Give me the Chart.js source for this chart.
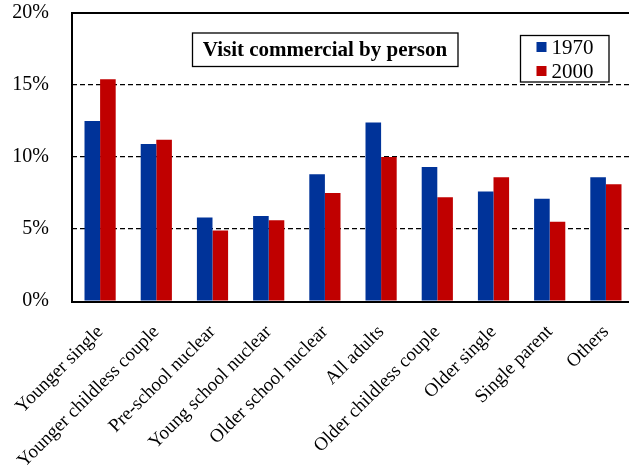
<!DOCTYPE html>
<html>
<head>
<meta charset="utf-8">
<script src="https://cdn.jsdelivr.net/npm/chart.js@4"></script>
<style>
    html, body { margin: 0; padding: 0; background: #fff; overflow: hidden; }
    body { width: 629px; height: 468px; }
    #wrap { width: 634px; height: 468px; }
</style>
</head>
<body>
<div id="wrap"><canvas id="chart" width="634" height="468"></canvas></div>
<script>
const categories = [
    'Younger single', 'Younger childless couple', 'Pre-school nuclear',
    'Young school nuclear', 'Older school nuclear', 'All adults',
    'Older childless couple', 'Older single', 'Single parent', 'Others'
];
const values1970 = [12.5, 10.9, 5.8, 5.9, 8.8, 12.4, 9.3, 7.6, 7.1, 8.6];
const values2000 = [15.4, 11.2, 4.9, 5.6, 7.5, 10.0, 7.2, 8.6, 5.5, 8.1];
const chartTitle = 'Visit commercial by person';

const serif = '"Liberation Serif", "Times New Roman", serif';

// frame around the plot, the boxed title and the boxed legend
const decorations = {
    id: 'decorations',
    afterDatasetsDraw(chart) {
        const { ctx, chartArea: a } = chart;
        ctx.save();
        ctx.strokeStyle = '#000';
        ctx.lineWidth = 2;
        ctx.strokeRect(a.left, a.top, a.right - a.left, a.bottom - a.top + 1);

        // title box
        ctx.lineWidth = 1.3;
        ctx.strokeRect(a.left + 120.5, a.top + 20, 265.5, 33.5);
        ctx.fillStyle = '#000';
        ctx.font = 'bold 21px ' + serif;
        ctx.textAlign = 'center';
        ctx.textBaseline = 'middle';
        ctx.fillText(chartTitle, a.left + 253, a.top + 37.5);

        // legend box
        const lx = a.left + 448.5, ly = a.top + 22.5;
        ctx.strokeRect(lx, ly, 88.5, 46.5);
        ctx.font = '21px ' + serif;
        ctx.textAlign = 'left';
        chart.data.datasets.forEach((ds, i) => {
            const cy = ly + 11.5 + i * 24;
            ctx.fillStyle = ds.backgroundColor;
            ctx.fillRect(lx + 16, cy - 5, 10, 10);
            ctx.fillStyle = '#000';
            ctx.fillText(ds.label, lx + 31, cy + 1);
        });
        ctx.restore();
    }
};

new Chart(document.getElementById('chart'), {
    type: 'bar',
    data: {
        labels: categories,
        datasets: [
            { label: '1970', data: values1970, backgroundColor: '#003399' },
            { label: '2000', data: values2000, backgroundColor: '#C00000' }
        ]
    },
    options: {
        responsive: false,
        animation: false,
        layout: { padding: { top: 13, right: 0, left: 0, bottom: 0 } },
        datasets: {
            bar: { barPercentage: 1, categoryPercentage: 0.555, borderWidth: 0 }
        },
        plugins: {
            legend: { display: false },
            title: { display: false },
            tooltip: { enabled: false }
        },
        scales: {
            x: {
                offset: true,
                grid: { display: false },
                border: { display: false },
                ticks: {
                    minRotation: 45,
                    maxRotation: 45,
                    padding: 12,
                    color: '#000',
                    font: { family: serif, size: 19 }
                },
                afterFit(scale) {
                    scale.height = 167;
                    scale.paddingLeft = 0;
                    scale.paddingRight = 0;
                }
            },
            y: {
                min: 0,
                max: 20,
                ticks: {
                    stepSize: 5,
                    padding: 23,
                    color: '#000',
                    font: { family: serif, size: 20 },
                    callback: v => v + '%'
                },
                grid: {
                    drawTicks: false,
                    color: ctx => (ctx.tick.value > 0 && ctx.tick.value < 20) ? '#000' : 'rgba(0,0,0,0)',
                    lineWidth: 1.2
                },
                border: { display: false, dash: [5, 3] },
                afterFit(scale) {
                    scale.width = 72;
                    scale.paddingTop = 0;
                    scale.paddingBottom = 0;
                }
            }
        }
    },
    plugins: [decorations]
});
</script>
</body>
</html>
